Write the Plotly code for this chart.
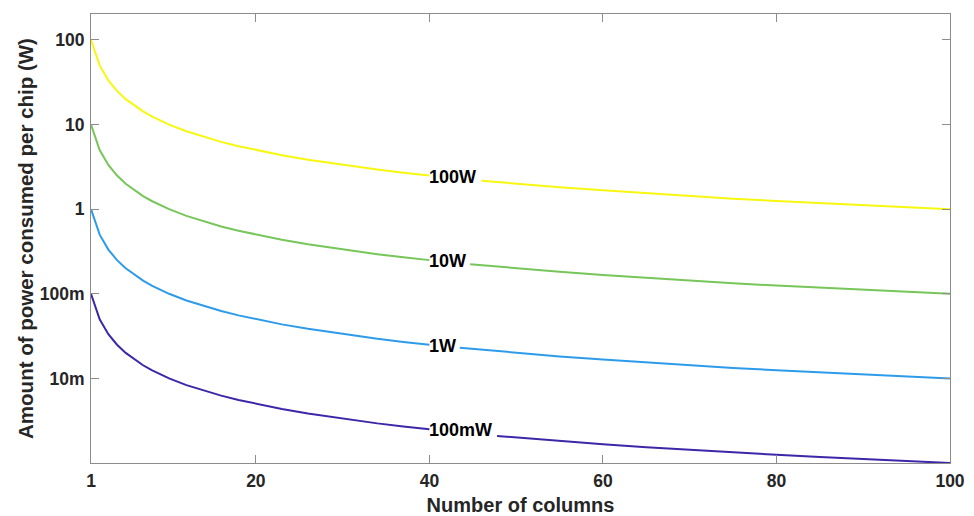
import math
import plotly.graph_objects as go

# Data
columns_left = [1, 2, 3, 4, 5, 6, 7, 8, 9, 10, 12, 14, 16, 18, 20, 23, 26, 30, 34, 37, 40]
columns_right = [50, 55, 60, 65, 70, 75, 80, 85, 90, 95, 100]
# where each line resumes after its in-line label
resume_x = [46.0, 44.7, 43.5, 47.8]
resume_y = [2.17, 0.224, 0.0230, 0.00209]

p100W_left = [100, 50, 33.3, 25, 20, 16.7, 14.3, 12.5, 11.1, 10, 8.33, 7.14, 6.25, 5.56, 5.0, 4.35, 3.85, 3.33, 2.94, 2.70, 2.5]
p100W_right = [2.0, 1.82, 1.67, 1.54, 1.43, 1.33, 1.25, 1.18, 1.11, 1.05, 1.0]
p10W_left = [10, 5.0, 3.33, 2.5, 2.0, 1.67, 1.43, 1.25, 1.11, 1.0, 0.833, 0.714, 0.625, 0.556, 0.5, 0.435, 0.385, 0.333, 0.294, 0.270, 0.25]
p10W_right = [0.2, 0.182, 0.167, 0.154, 0.143, 0.133, 0.125, 0.118, 0.111, 0.105, 0.1]
p1W_left = [1, 0.5, 0.333, 0.25, 0.2, 0.167, 0.143, 0.125, 0.111, 0.1, 0.0833, 0.0714, 0.0625, 0.0556, 0.05, 0.0435, 0.0385, 0.0333, 0.0294, 0.0270, 0.025]
p1W_right = [0.02, 0.0182, 0.0167, 0.0154, 0.0143, 0.0133, 0.0125, 0.0118, 0.0111, 0.0105, 0.01]
p100mW_left = [0.1, 0.05, 0.0333, 0.025, 0.02, 0.0167, 0.0143, 0.0125, 0.0111, 0.01, 0.00833, 0.00714, 0.00625, 0.00556, 0.005, 0.00435, 0.00385, 0.00333, 0.00294, 0.00270, 0.0025]
p100mW_right = [0.002, 0.00182, 0.00167, 0.00154, 0.00143, 0.00133, 0.00125, 0.00118, 0.00111, 0.00105, 0.001]

series_names = ["100W", "10W", "1W", "100mW"]
series_left = [p100W_left, p10W_left, p1W_left, p100mW_left]
series_right = [p100W_right, p10W_right, p1W_right, p100mW_right]
series_colors = ["#F7F70F", "#77C65A", "#2E9BEA", "#3E26A8"]
label_x = 40

y_tickvals = [100, 10, 1, 0.1, 0.01]
y_ticktext = ["100", "10", "1", "100m", "10m"]
x_tickvals = [1, 20, 40, 60, 80, 100]

font_family = "Arial, Liberation Sans, sans-serif"
text_color = "#262626"

fig = go.Figure()
for i, (name, yl, yr, c) in enumerate(zip(series_names, series_left, series_right, series_colors)):
    fig.add_trace(go.Scatter(x=columns_left, y=yl, mode="lines",
                             line=dict(color=c, width=2), showlegend=False, hoverinfo="skip"))
    fig.add_trace(go.Scatter(x=[resume_x[i]] + columns_right, y=[resume_y[i]] + yr, mode="lines",
                             line=dict(color=c, width=2), showlegend=False, hoverinfo="skip"))
    fig.add_annotation(x=label_x, y=math.log10(yl[-1]), yref="y", xref="x", text=name,
                       showarrow=False, xanchor="left", yanchor="middle", xshift=-2, yshift=-1,
                       font=dict(family=font_family, size=18, color="#000000", weight="bold"))

axis_common = dict(showline=True, linecolor="#8c8c8c", linewidth=1, mirror="ticks",
                   ticks="inside", ticklen=8, tickcolor="#8c8c8c", tickwidth=1,
                   showgrid=False, zeroline=False, automargin=False,
                   tickfont=dict(family=font_family, size=17.5, color=text_color, weight="bold"))

fig.update_layout(
    width=974, height=516,
    margin=dict(l=91, r=24, t=14, b=53),
    paper_bgcolor="white", plot_bgcolor="white",
    xaxis=dict(range=[1, 100], tickvals=x_tickvals, ticklabelstandoff=2,
               title=dict(text="Number of columns", standoff=9,
                          font=dict(family=font_family, size=20, color=text_color, weight="bold")),
               **axis_common),
    yaxis=dict(type="log", range=[-3.0, 2.307], tickvals=y_tickvals, ticktext=y_ticktext,
               ticklabelstandoff=2,
               title=dict(text="Amount of power consumed per chip (W)", standoff=0,
                          font=dict(family=font_family, size=20.5, color=text_color, weight="bold")),
               **axis_common),
)

fig.write_html("out.html")
